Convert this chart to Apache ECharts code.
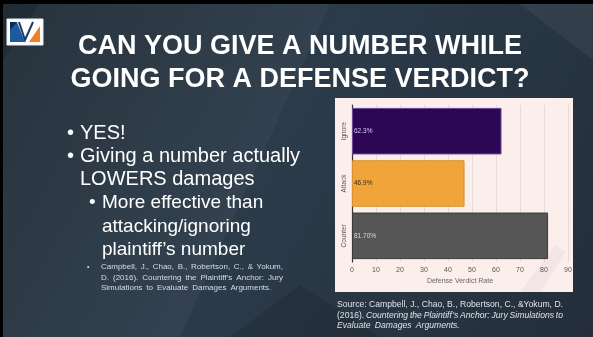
<!DOCTYPE html>
<html>
<head>
<meta charset="utf-8">
<script src="https://cdn.jsdelivr.net/npm/echarts@6/dist/echarts.min.js"></script>
<style>
html,body{margin:0;padding:0;background:#000;}
#c{width:593px;height:337px;}
</style>
</head>
<body>
<div id="c"></div>
<script>
// ---- data ----
const categories = ['Ignore', 'Attack', 'Counter'];
const values = [62.3, 46.9, 81.7];
const valueLabels = ['62.3%', '46.9%', '81.70%'];
const barColors = ['#2e0656', '#f0a43a', '#565656'];
const labelColors = ['#d9c9f2', '#3a2a10', '#dcdcdc'];
const xTicks = [0, 10, 20, 30, 40, 50, 60, 70, 80, 90];
const titleLines = ['CAN YOU GIVE A NUMBER WHILE', 'GOING FOR A DEFENSE VERDICT?'];
const bullets = [
  {lvl: 1, lines: ['YES!']},
  {lvl: 1, lines: ['Giving a number actually', 'LOWERS damages']},
  {lvl: 2, lines: ['More effective than', 'attacking/ignoring', 'plaintiff\u2019s number']}
];
const citationLines = [
  [{t: 'Campbell, J., Chao, B., Robertson, C., & Yokum,'}],
  [{t: 'D. (2016). Countering the Plaintiff\u2019s Anchor: Jury'}],
  [{t: 'Simulations to Evaluate Damages Arguments.', last: true}]
];
const sourceLines = [
  [{t: 'Source: Campbell, J., Chao, B., Robertson, C., &Yokum, D.'}],
  [{t: '(2016).'}, {t: 'Countering the Plaintiff\u2019s Anchor: Jury Simulations to', it: true}],
  [{t: 'Evaluate Damages Arguments.', it: true, last: true}]
];

const FONT = '"Liberation Sans", Arial, sans-serif';
const cv = document.createElement('canvas').getContext('2d');
function measure(txt, size, italic) {
  cv.font = (italic ? 'italic ' : '') + size + 'px ' + FONT;
  return cv.measureText(txt).width;
}
// justified line -> graphic texts
function justify(segments, x0, x1, y, size, color) {
  const words = [];
  segments.forEach(s => s.t.split(' ').forEach(w => words.push({w, it: !!s.it})));
  const widths = words.map(o => measure(o.w, size, o.it));
  const total = widths.reduce((a, b) => a + b, 0);
  const isLast = segments.some(s => s.last);
  const gap = isLast ? measure(' ', size, false) * 1.8 : (x1 - x0 - total) / (words.length - 1);
  const out = [];
  let x = x0;
  words.forEach((o, i) => {
    out.push({type: 'text', z: 100, x: x, y: y, style: {
      text: o.w, fill: color, font: (o.it ? 'italic ' : '') + size + 'px ' + FONT,
      textVerticalAlign: 'middle', verticalAlign: 'middle'}});
    x += widths[i] + gap;
  });
  return out;
}

const g = [];
// slide background
g.push({type: 'rect', z: -20, shape: {x: 3, y: 4, width: 590, height: 333},
  style: {fill: new echarts.graphic.LinearGradient(0, 0, 1, 1, [
    {offset: 0, color: '#202b36'}, {offset: 0.45, color: '#2c3b4a'}, {offset: 1, color: '#232e3a'}])}});
g.push({type: 'polygon', z: -19, shape: {points: [[40, 4], [330, 4], [180, 337], [3, 337], [3, 60]]},
  style: {fill: 'rgba(255,255,255,0.035)'}});
g.push({type: 'polygon', z: -19, shape: {points: [[230, 337], [300, 285], [380, 337]]},
  style: {fill: 'rgba(0,0,0,0.12)'}});
g.push({type: 'polygon', z: -19, shape: {points: [[520, 4], [593, 4], [593, 60]]},
  style: {fill: 'rgba(255,255,255,0.05)'}});
// chart panel
g.push({type: 'rect', z: -10, shape: {x: 335, y: 98, width: 238, height: 194}, style: {fill: '#fcefeb'}});
g.push({type: 'polygon', z: -9, shape: {points: [[520, 292], [555, 245], [566, 252], [540, 292]]},
  style: {fill: 'rgba(230,210,220,0.35)'}});
// logo
g.push({type: 'rect', z: 100, shape: {x: 7, y: 19, width: 36, height: 26}, style: {fill: '#ffffff'}});
g.push({type: 'polygon', z: 101, shape: {points: [[10, 22], [17, 22], [25, 42], [10, 42]]}, style: {fill: '#1d5aa0'}});
g.push({type: 'polygon', z: 101, shape: {points: [[10, 22], [17, 22], [10, 30]]}, style: {fill: '#0d2a5a'}});
g.push({type: 'polygon', z: 101, shape: {points: [[40, 26], [40, 42], [29, 42]]}, style: {fill: '#f08020'}});
g.push({type: 'polyline', z: 102, shape: {points: [[19, 22], [25, 40], [33, 22]]}, style: {stroke: '#1b3a6a', lineWidth: 2, fill: null}});
g.push({type: 'rect', z: 101, shape: {x: 7, y: 19, width: 36, height: 26}, style: {fill: null, stroke: '#e8eef5', lineWidth: 1}});
// title
titleLines.forEach((t, i) => g.push({type: 'text', z: 100, x: 300, y: 47 + i * 33, style: {
  text: t, fill: '#ffffff', font: 'bold 27px ' + FONT, textAlign: 'center', align: 'center',
  textVerticalAlign: 'middle', verticalAlign: 'middle'}}));
// bullets
let by = 133;
bullets.forEach(b => {
  const size = b.lvl === 1 ? 20 : 19;
  const bx = b.lvl === 1 ? 67 : 89;
  const tx = b.lvl === 1 ? 80 : 102;
  g.push({type: 'text', z: 100, x: bx, y: by, style: {text: '\u2022', fill: '#ffffff',
    font: size + 'px ' + FONT, textVerticalAlign: 'middle', verticalAlign: 'middle'}});
  b.lines.forEach(l => {
    g.push({type: 'text', z: 100, x: tx, y: by, style: {text: l, fill: '#ffffff',
      font: size + 'px ' + FONT, textVerticalAlign: 'middle', verticalAlign: 'middle'}});
    by += 23.4;
  });
});
// citation
g.push({type: 'text', z: 100, x: 87, y: 267, style: {text: '\u2022', fill: '#d8dde2',
  font: '7px ' + FONT, textVerticalAlign: 'middle', verticalAlign: 'middle'}});
citationLines.forEach((l, i) => justify(l, 101, 283, 267 + i * 10.5, 8, '#d8dde2').forEach(e => g.push(e)));
// source
sourceLines.forEach((l, i) => justify(l, 337, 563, 305 + i * 10.3, 8.6, '#dfe3e8').forEach(e => g.push(e)));

const chart = echarts.init(document.getElementById('c'), null, {renderer: 'canvas'});
chart.setOption({
  backgroundColor: 'transparent',
  animation: false,
  graphic: {elements: g},
  grid: {left: 352, right: 25, top: 105, bottom: 75, containLabel: false},
  xAxis: {
    type: 'value', min: 0, max: 90, interval: 10,
    name: 'Defense Verdict Rate', nameLocation: 'middle', nameGap: 16,
    nameTextStyle: {color: '#666', fontSize: 7, fontFamily: FONT},
    axisLine: {show: false}, axisTick: {show: false},
    axisLabel: {color: '#555', fontSize: 7, margin: 5, fontFamily: FONT,
      formatter: v => xTicks.includes(v) ? String(v) : ''},
    splitLine: {show: true, lineStyle: {color: '#e4dad8', width: 1}}
  },
  yAxis: {
    type: 'category', data: categories, inverse: true,
    axisLine: {show: true, lineStyle: {color: '#333', width: 1.2}},
    axisTick: {show: false},
    axisLabel: {rotate: 90, color: '#555', fontSize: 6.5, margin: 4, fontFamily: FONT}
  },
  series: [{
    type: 'bar', barCategoryGap: '11%',
    data: values.map((v, i) => ({value: v, itemStyle: {color: barColors[i],
      borderColor: i === 0 ? '#6a4a95' : (i === 1 ? '#d89030' : '#3a3a3a'), borderWidth: 1},
      label: {color: labelColors[i]}})),
    label: {show: true, position: 'insideLeft', offset: [-3, 0], fontSize: 6.5, fontFamily: FONT,
      formatter: p => valueLabels[p.dataIndex]}
  }]
});
</script>
</body>
</html>
